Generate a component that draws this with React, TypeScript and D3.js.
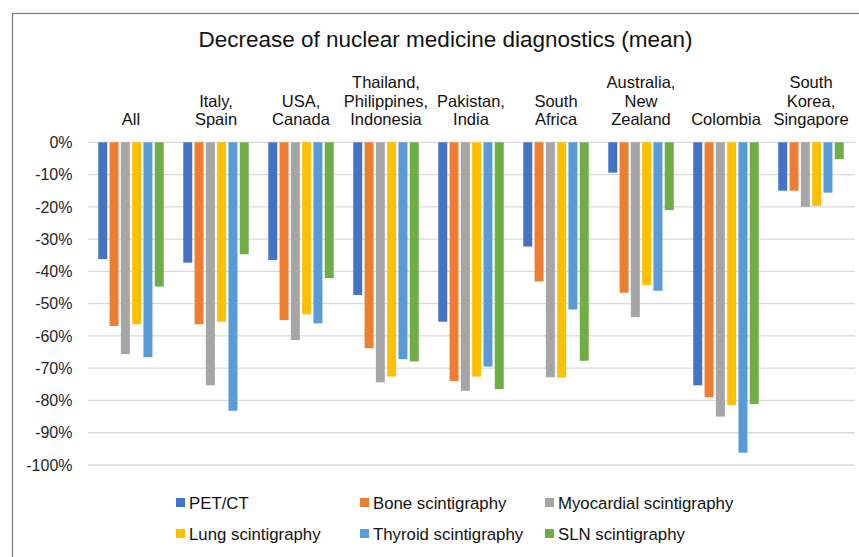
import React from "react";
import * as d3 from "d3";

const title = "Decrease of nuclear medicine diagnostics (mean)";
const categories = [
  ["All"],
  ["Italy,", "Spain"],
  ["USA,", "Canada"],
  ["Thailand,", "Philippines,", "Indonesia"],
  ["Pakistan,", "India"],
  ["South", "Africa"],
  ["Australia,", "New", "Zealand"],
  ["Colombia"],
  ["South", "Korea,", "Singapore"],
];
const seriesNames = [
  "PET/CT",
  "Bone scintigraphy",
  "Myocardial scintigraphy",
  "Lung scintigraphy",
  "Thyroid scintigraphy",
  "SLN scintigraphy",
];
const seriesColors = ["#4472C4", "#ED7D31", "#A5A5A5", "#FFC000", "#5B9BD5", "#70AD47"];
const petCT = [-36.2, -37.3, -36.5, -47.3, -55.6, -32.3, -9.4, -75.3, -15.0];
const bone = [-56.9, -56.4, -55.1, -63.8, -74.0, -43.1, -46.6, -79.0, -15.0];
const myocardial = [-65.6, -75.3, -61.3, -74.4, -77.0, -72.8, -54.2, -85.0, -20.0];
const lung = [-56.4, -55.6, -53.3, -72.6, -72.6, -72.9, -44.2, -81.4, -19.7];
const thyroid = [-66.6, -83.2, -56.1, -67.2, -69.5, -51.8, -46.0, -96.2, -15.6];
const sln = [-44.7, -34.7, -42.1, -67.9, -76.5, -67.7, -21.0, -81.1, -5.2];
const seriesValues = [petCT, bone, myocardial, lung, thyroid, sln];
const yTicks = [0, -10, -20, -30, -40, -50, -60, -70, -80, -90, -100];

const FONT = "'Liberation Sans', Arial, sans-serif";

export default function App() {
  const W = 859, H = 557;
  const plotL = 88.5, plotR = 853.5;
  const y = d3.scaleLinear().domain([-100, 0]).range([465, 142.3]);
  const catKeys = categories.map((c, i) => String(i));
  const x0 = d3.scaleBand<string>().domain(catKeys).range([plotL, plotR]);
  const x1 = d3
    .scaleBand<string>()
    .domain(seriesNames)
    .range([0, x0.bandwidth()])
    .paddingInner(0.206)
    .paddingOuter(0.865);

  const legendCols = [176, 360, 545];
  const legendRows = [502.5, 533.5];

  return (
    <svg
      width={W}
      height={H}
      style={{ position: "absolute", left: 0, top: 0, background: "#fff" }}
      fontFamily={FONT}
    >
      <rect x={0} y={0} width={W} height={H} fill="#fff" />
      <rect x={12.5} y={13.5} width={W + 20} height={H + 20} fill="none" stroke="#7a7a7a" strokeWidth={1.2} />
      <text x={445.5} y={46.5} textAnchor="middle" fontSize={22.5} fill="#111">
        {title}
      </text>
      {yTicks.map((t) => (
        <g key={t}>
          <line x1={88} x2={855} y1={y(t)} y2={y(t)} stroke="#d9d9d9" strokeWidth={1.3} />
          <text x={72.5} y={y(t)} dy="0.36em" textAnchor="end" fontSize={16} fill="#262626">
            {t + "%"}
          </text>
        </g>
      ))}
      {categories.map((lines, i) => {
        const cx = (x0(String(i)) as number) + x0.bandwidth() / 2;
        return (
          <text key={i} textAnchor="middle" fontSize={16.5} fill="#111">
            {lines.map((ln, j) => (
              <tspan key={j} x={cx} y={125 - (lines.length - 1 - j) * 18.3}>
                {ln}
              </tspan>
            ))}
          </text>
        );
      })}
      {seriesValues.map((vals, s) =>
        vals.map((v, i) => {
          const bx = (x0(String(i)) as number) + (x1(seriesNames[s]) as number);
          return (
            <rect
              key={s + "-" + i}
              x={bx}
              y={y(0)}
              width={x1.bandwidth()}
              height={y(v) - y(0)}
              fill={seriesColors[s]}
            />
          );
        })
      )}
      {seriesNames.map((name, s) => {
        const cx = legendCols[s % 3];
        const cy = legendRows[Math.floor(s / 3)];
        return (
          <g key={name}>
            <rect x={cx} y={cy - 4.5} width={9} height={9} fill={seriesColors[s]} />
            <text x={cx + 13} y={cy} dy="0.36em" fontSize={16.8} fill="#111">
              {name}
            </text>
          </g>
        );
      })}
    </svg>
  );
}
